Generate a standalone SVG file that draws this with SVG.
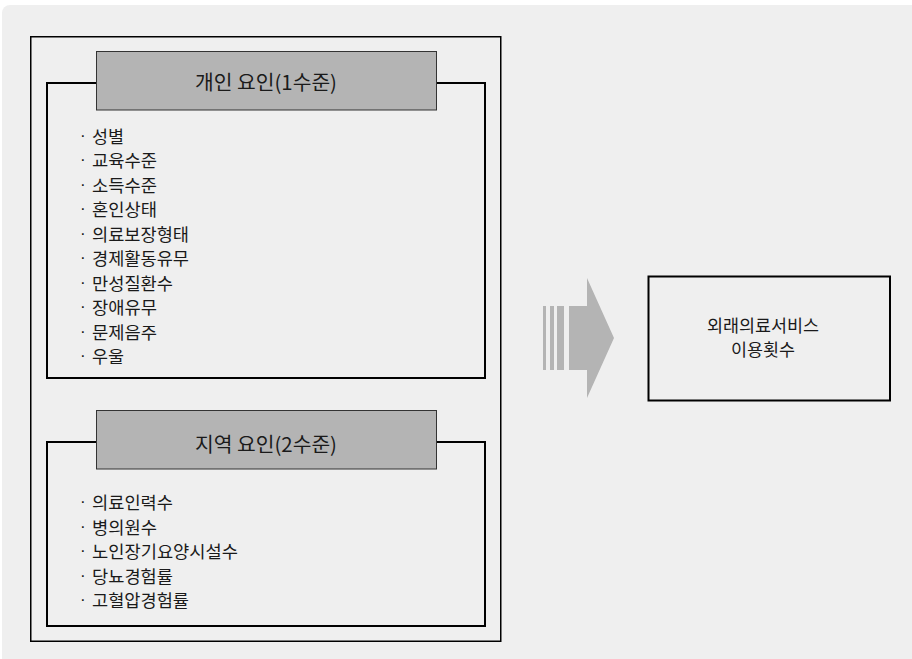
<svg xmlns="http://www.w3.org/2000/svg" width="912" height="659" viewBox="0 0 912 659">
<style>
  text { font-family: "Noto Sans CJK KR", "Noto Sans", sans-serif; fill: #1a1a1a; dominant-baseline: central; }
  .frame { fill: none; stroke: #000; stroke-width: 2; }
  .outer { fill: none; stroke: #000; stroke-width: 1.5; }
  .hdr { fill: #b4b4b4; stroke: #333; stroke-width: 1; }
  .hdrtxt { font-size: 20px; text-anchor: middle; }
  .item { font-size: 17px; }
  .dot { font-family: "Liberation Sans", sans-serif; }
  .arrow { fill: #b4b4b4; }
</style>
<rect width="912" height="659" fill="#ffffff"/>
<rect x="2" y="5" width="930" height="680" rx="8" fill="#efefef"/>

<g id="outer-box">
  <rect class="outer" x="30.75" y="36.75" width="470" height="604.5"/>
</g>

<g id="individual-factors">
  <rect class="frame" x="47" y="83" width="438" height="295"/>
  <rect class="hdr" x="96.5" y="51.5" width="340" height="58.5"/>
  <text class="hdrtxt" x="266" y="81" textLength="142" lengthAdjust="spacingAndGlyphs">개인 요인(1수준)</text>
  <text class="item" y="134.5"><tspan class="dot" x="80">·</tspan><tspan x="92" textLength="32" lengthAdjust="spacingAndGlyphs">성별</tspan></text>
  <text class="item" y="159"><tspan class="dot" x="80">·</tspan><tspan x="92" textLength="65" lengthAdjust="spacingAndGlyphs">교육수준</tspan></text>
  <text class="item" y="183.5"><tspan class="dot" x="80">·</tspan><tspan x="92" textLength="65" lengthAdjust="spacingAndGlyphs">소득수준</tspan></text>
  <text class="item" y="208"><tspan class="dot" x="80">·</tspan><tspan x="92" textLength="65" lengthAdjust="spacingAndGlyphs">혼인상태</tspan></text>
  <text class="item" y="232.5"><tspan class="dot" x="80">·</tspan><tspan x="92" textLength="97" lengthAdjust="spacingAndGlyphs">의료보장형태</tspan></text>
  <text class="item" y="257"><tspan class="dot" x="80">·</tspan><tspan x="92" textLength="97" lengthAdjust="spacingAndGlyphs">경제활동유무</tspan></text>
  <text class="item" y="281.5"><tspan class="dot" x="80">·</tspan><tspan x="92" textLength="81" lengthAdjust="spacingAndGlyphs">만성질환수</tspan></text>
  <text class="item" y="306"><tspan class="dot" x="80">·</tspan><tspan x="92" textLength="65" lengthAdjust="spacingAndGlyphs">장애유무</tspan></text>
  <text class="item" y="330.5"><tspan class="dot" x="80">·</tspan><tspan x="92" textLength="65" lengthAdjust="spacingAndGlyphs">문제음주</tspan></text>
  <text class="item" y="354.5"><tspan class="dot" x="80">·</tspan><tspan x="92" textLength="32" lengthAdjust="spacingAndGlyphs">우울</tspan></text>
</g>

<g id="regional-factors">
  <rect class="frame" x="47" y="442" width="438" height="184"/>
  <rect class="hdr" x="96.5" y="410.5" width="340" height="58.5"/>
  <text class="hdrtxt" x="266" y="443" textLength="142" lengthAdjust="spacingAndGlyphs">지역 요인(2수준)</text>
  <text class="item" y="501"><tspan class="dot" x="80">·</tspan><tspan x="92" textLength="81" lengthAdjust="spacingAndGlyphs">의료인력수</tspan></text>
  <text class="item" y="525.5"><tspan class="dot" x="80">·</tspan><tspan x="92" textLength="65" lengthAdjust="spacingAndGlyphs">병의원수</tspan></text>
  <text class="item" y="550"><tspan class="dot" x="80">·</tspan><tspan x="92" textLength="146" lengthAdjust="spacingAndGlyphs">노인장기요양시설수</tspan></text>
  <text class="item" y="574.5"><tspan class="dot" x="80">·</tspan><tspan x="92" textLength="81" lengthAdjust="spacingAndGlyphs">당뇨경험률</tspan></text>
  <text class="item" y="599"><tspan class="dot" x="80">·</tspan><tspan x="92" textLength="97" lengthAdjust="spacingAndGlyphs">고혈압경험률</tspan></text>
</g>

<g id="connectors">
  <rect class="arrow" x="543" y="306" width="3" height="64"/>
  <rect class="arrow" x="550" y="306" width="4" height="64"/>
  <rect class="arrow" x="557" y="306" width="7" height="64"/>
  <polygon class="arrow" points="569,306 587,306 587,278 614,338 587,398 587,370 569,370"/>
</g>

<g id="outcome">
  <rect x="648.5" y="276.5" width="241.5" height="124" fill="none" stroke="#000" stroke-width="2"/>
  <text class="item" x="763" y="324" text-anchor="middle" textLength="112" lengthAdjust="spacingAndGlyphs">외래의료서비스</text>
  <text class="item" x="763" y="348.5" text-anchor="middle" textLength="64" lengthAdjust="spacingAndGlyphs">이용횟수</text>
</g>
</svg>
